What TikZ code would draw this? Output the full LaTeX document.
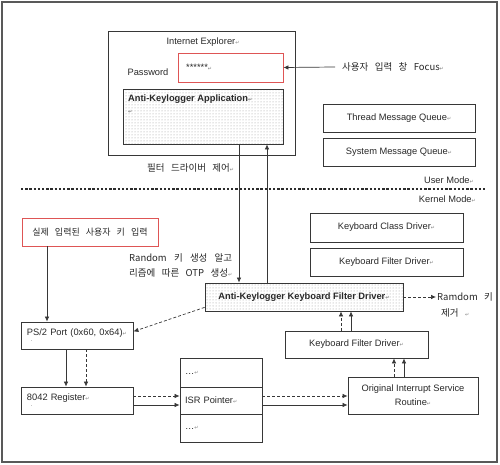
\documentclass[tikz,border=0pt]{standalone}
\usepackage{fontspec}
\setmainfont{Liberation Sans}
\newfontfamily\kr[WordSpace=3]{Noto Sans CJK KR}
\newfontfamily\symfont{DejaVu Sans}
\usetikzlibrary{calc}
\usetikzlibrary{arrows.meta}
\usetikzlibrary{patterns}
\usetikzlibrary{shadows}
\newcommand{\crmark}{{\symfont\fontsize{5}{5}\selectfont\textcolor{gray}{↵}}}
\definecolor{linegray}{RGB}{55,55,55}
\definecolor{txtgray}{RGB}{40,40,40}
\definecolor{boxred}{RGB}{222,85,85}
\tikzset{
  box/.style={draw=linegray, line width=0.8pt, fill=white, inner sep=2pt, text=txtgray,
    drop shadow={shadow xshift=0.9pt, shadow yshift=-0.9pt, fill=gray!70, opacity=1},
    font=\fontsize{9.3}{10}\selectfont},
  redbox/.style={box, draw=boxred},
  dotbox/.style={box, preaction={fill=white}, pattern=dots, pattern color=gray!80},
  lbl/.style={text=txtgray, inner sep=0pt, font=\fontsize{9.3}{10}\selectfont},
  krlbl/.style={text=txtgray, inner sep=0pt, font=\kr\fontsize{9.5}{15}\selectfont},
  link/.style={draw=linegray, line width=0.7pt, -{Latex[length=5pt,width=4.5pt]}},
  dlink/.style={link, dash pattern=on 3pt off 2pt}
}
\begin{document}
\begin{tikzpicture}[x=1pt, y=-1pt]
\useasboundingbox (0,0) rectangle (500,465);
\draw[draw=gray!70!black, line width=1.3pt] (2,2) rectangle (497,462);

% user mode
\node[box, minimum width=187pt, minimum height=124pt] (ie) at (201.5,93) {};
\node[lbl] (ietitle) at (203,42) {Internet Explorer\crmark};
\node[lbl] (pwlabel) at (148,72) {Password};
\node[redbox, minimum width=105pt, minimum height=29pt] (pw) at (230.5,67.5) {};
\node[lbl, anchor=west] (pwtext) at (186,67) {******\crmark};
\node[dotbox, minimum width=160pt, minimum height=55pt] (app) at (203,116.5) {};
\node[lbl, anchor=north west, align=left, font=\bfseries\fontsize{9.3}{12}\selectfont] (apptitle) at (128,95) {Anti-Keylogger Application\crmark\\ \crmark};

\node[krlbl, anchor=west] (focus) at (342,67) {사용자 입력 창 Focus\crmark};
\coordinate (focusstart) at (335,67);
\draw[link] (focusstart) -- (pw.east);

\node[box, minimum width=152pt, minimum height=28pt] (tmq) at (399,118) {Thread Message Queue\crmark};
\node[box, minimum width=152pt, minimum height=28pt] (smq) at (399,152) {System Message Queue\crmark};

\node[lbl, anchor=east] (usermode) at (474,180) {User Mode\crmark};
\draw[linegray!80!black, line width=2.4pt, dash pattern=on 2.4pt off 1.8pt] (21,189) -- (485,189);
\node[lbl, anchor=east] (kernelmode) at (476,199) {Kernel Mode\crmark};
\node[krlbl, anchor=west] (ctrl) at (147,168) {필터 드라이버 제어\crmark};

% kernel mode
\node[redbox, minimum width=136pt, minimum height=28pt, font=\kr\fontsize{9}{10}\selectfont] (real) at (90,232) {\raisebox{-3pt}{실제 입력된 사용자 키 입력}};
\node[krlbl, anchor=north west, align=left] (otp) at (129,253) {\makebox[103pt][s]{Random 키 생성 알고}\\ \makebox[103pt][s]{리즘에 따른 OTP 생성\crmark}};

\node[box, minimum width=153pt, minimum height=29pt] (kcd) at (386.5,227.5) {Keyboard Class Driver\crmark};
\node[box, minimum width=153pt, minimum height=28pt] (kfdup) at (386.5,262) {Keyboard Filter Driver\crmark};
\node[dotbox, minimum width=198pt, minimum height=28pt, font=\bfseries\fontsize{9.3}{10}\selectfont] (akfd) at (304,297) {Anti-Keylogger Keyboard Filter Driver\crmark};
\coordinate (rmend) at (436,297);
\node[krlbl, anchor=west] (rmtop) at (437,297) {Ramdom 키};
\node[krlbl, anchor=west] (rmbot) at (441,313) {제거 \crmark};
\node[box, minimum width=143pt, minimum height=27pt] (kfd) at (356.5,344.5) {Keyboard Filter Driver\crmark};
\node[box, minimum width=130pt, minimum height=37pt, align=center, font=\fontsize{9.3}{14}\selectfont] (orig) at (413,395.5) {Original Interrupt Service\\Routine\crmark};

\node[box, minimum width=82pt, minimum height=29pt, text width=72pt, align=left] (isrtop) at (221,372.5) {…\crmark};
\node[box, minimum width=82pt, minimum height=27pt, text width=72pt, align=left] (isr) at (221,400.5) {ISR Pointer\crmark};
\node[box, minimum width=82pt, minimum height=28pt, text width=72pt, align=left] (isrbot) at (221,428) {…\crmark};

\node[box, minimum width=112pt, minimum height=27pt, text width=100pt, align=left] (ps2) at (77,335.5) {PS/2 Port (0x60, 0x64)\crmark\\[-4pt]\hspace*{4pt}{\tiny .}};
\node[box, minimum width=112pt, minimum height=27pt, text width=100pt, align=left] (reg) at (77,400.5) {8042 Register\crmark\\[-4pt]\hspace*{4pt}{\tiny .}};

% connectors
\draw[link] ([xshift=36pt]app.south) -- ([xshift=36pt]app.south |- akfd.north);
\draw[link] ([xshift=64pt]app.south |- akfd.north) -- ([xshift=64pt]app.south);
\draw[link] ([xshift=-43pt]real.south) -- ([xshift=-43pt]real.south |- ps2.north);
\draw[dlink] ([yshift=4pt]akfd.south west) -- ([yshift=4pt]ps2.east);
\draw[dlink] (akfd.east) -- (rmend);
\draw[dlink] ([xshift=-15.5pt]kfd.north) -- ([xshift=-15.5pt]kfd.north |- akfd.south);
\draw[link] ([xshift=-5.5pt]kfd.north) -- ([xshift=-5.5pt]kfd.north |- akfd.south);
\draw[dlink] ([xshift=-19pt]orig.north) -- ([xshift=-19pt]orig.north |- kfd.south);
\draw[link] ([xshift=-9pt]orig.north) -- ([xshift=-9pt]orig.north |- kfd.south);
\draw[link] ([xshift=-11pt]ps2.south) -- ([xshift=-11pt]ps2.south |- reg.north);
\draw[dlink] ([xshift=9pt]ps2.south) -- ([xshift=9pt]ps2.south |- reg.north);
\draw[dlink] ([yshift=4.5pt]reg.east) -- ([yshift=4.5pt]reg.east -| isr.west);
\draw[link] ([yshift=-4.5pt]reg.east) -- ([yshift=-4.5pt]reg.east -| isr.west);
\draw[dlink] ([yshift=4.5pt]isr.east) -- ([yshift=4.5pt]isr.east -| orig.west);
\draw[link] ([yshift=-4.5pt]isr.east) -- ([yshift=-4.5pt]isr.east -| orig.west);
\end{tikzpicture}
\end{document}
